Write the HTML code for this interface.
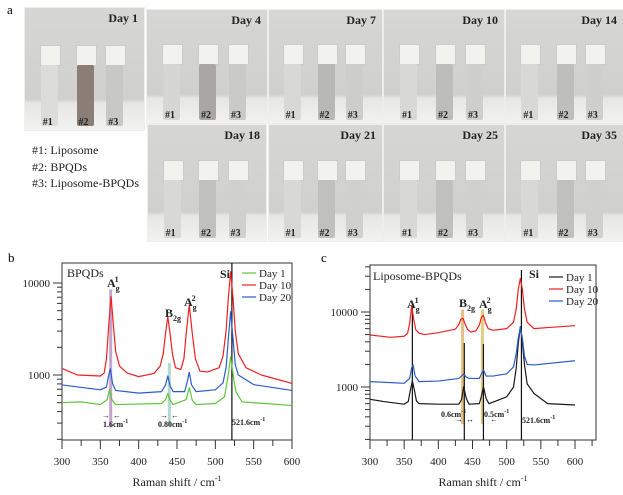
<!DOCTYPE html>
<html><head><meta charset="utf-8"><style>
body{margin:0;background:#fff;width:623px;height:495px;overflow:hidden;font-family:"Liberation Serif",serif;position:relative}
.ph{position:absolute;background:linear-gradient(#d6d6d4,#d0d0ce 75%,#e6e6e4 78%,#f2f2f0);border:1px solid #eee}
.ph .day{position:absolute;right:6px;top:3px;font-weight:bold;font-size:12px;color:#222}
.ph .lbl{position:absolute;bottom:2px;font-size:10px;font-weight:bold;color:#222}
.vial{position:absolute;width:17px;border-radius:2px}
.cap{position:absolute;width:19px;height:19px;background:#f2f2ef;border:1px solid #ccc}
.leg{position:absolute;left:32px;font-size:12px;color:#222}
</style></head><body>
<div style="position:absolute;left:7px;top:2px;font-size:13px">a</div>
<div id="photos"></div>
<div class="leg" style="top:143px">#1: Liposome</div>
<div class="leg" style="top:160px">#2: BPQDs</div>
<div class="leg" style="top:176px">#3: Liposome-BPQDs</div>
<div style="position:absolute;left:8px;top:250px;font-size:13px">b</div>
<div style="position:absolute;left:321px;top:250px;font-size:13px">c</div>
<svg id="chart" width="623" height="495" style="position:absolute;left:0;top:0"></svg>
<script>
const days=["Day 1","Day 4","Day 7","Day 10","Day 14","Day 18","Day 21","Day 25","Day 35"];
const panelBoxes=[[24,7,119,122],[146,9,120,113],[268,9,113,113],[383,9,120,113],[505,9,117,113],[147,124,118,116],[268,124,113,116],[383,124,120,116],[505,124,117,116]];
const vialShade=[["#dcdcda","#8a7e76","#c8c8c6"],["#d6d6d4","#a9a6a3","#cacac8"],["#d8d8d6","#b8b8b6","#cdcdcb"],["#d8d8d6","#bdbdbb","#cfcfcd"],["#d8d8d6","#bebebc","#cfcfcd"],["#d8d8d6","#c0c0be","#d0d0ce"],["#d8d8d6","#c0c0be","#d0d0ce"],["#d8d8d6","#c0c0be","#d0d0ce"],["#d8d8d6","#c0c0be","#d0d0ce"]];
const ph=document.getElementById('photos');
panelBoxes.forEach((b,i)=>{
  const d=document.createElement('div');d.className='ph';
  
  
  d.style.cssText+=`left:${b[0]}px;top:${b[1]}px;width:${b[2]}px;height:${b[3]}px`;
  let h=`<div class="day">${days[i]}</div>`;
  const xs=[0.2,0.5,0.75];
  for(let k=0;k<3;k++){
    const cx=b[2]*xs[k]-8;
    h+=`<div class="cap" style="left:${cx-1}px;top:${b[3]*0.3}px"></div><div class="vial" style="left:${cx}px;top:${b[3]*0.3+20}px;height:${b[3]*0.5}px;background:${vialShade[i][k]}"></div><div class="lbl" style="left:${cx+2}px">#${k+1}</div>`;
  }
  d.innerHTML=h;ph.appendChild(d);
});

const bX_red=[300,320,350,355,358,361,364,367,370,375,385,400,420,428,432,435,438,441,444,448,455,459,462,466,470,474,480,490,505,510,514,517,520,523,526,530,540,560,600];
const bY_red=[1180,1000,975,1050,1500,3500,7100,3500,1800,1250,1050,960,1040,1250,1700,2800,4300,2800,1700,1200,1150,1500,2800,5770,2800,1500,1100,1080,1200,1600,3000,7000,13300,7000,3000,1700,1200,1000,810];
const bX_blue=[300,350,358,361,363,366,370,400,430,435,438,441,445,460,463,466,469,475,500,510,514,517,520,523,526,530,550,600];
const bY_blue=[780,690,740,1000,1170,800,680,635,660,780,975,760,660,660,820,1070,780,660,690,820,1200,2500,4880,2500,1300,1000,786,680];
const bX_green=[300,325,350,359,362,365,370,430,435,438,441,445,462,466,470,475,500,512,516,520,524,527,535,600];
const bY_green=[500,510,477,540,700,540,477,490,540,630,530,477,540,730,530,477,490,580,900,1580,900,650,510,467];
const cX_red=[300,330,350,355,358,361,364,367,372,380,400,425,430,433,436,439,443,448,455,460,463,466,469,473,480,500,510,514,517,520,523,526,530,540,560,600];
const cY_red=[4940,4600,4750,5200,7000,12000,8000,5800,5200,5000,5300,5900,6800,8000,8230,7000,5800,5400,5600,6700,8500,9040,7200,6000,5700,6000,7300,11000,20000,28000,20000,11000,7300,6000,6200,6570];
const cX_blue=[300,350,358,361,363,366,372,400,430,434,437,441,445,460,463,466,470,480,500,510,514,517,520,523,526,530,540,600];
const cY_blue=[1180,1120,1300,1800,1970,1400,1180,1200,1300,1400,1490,1350,1300,1300,1500,1690,1400,1400,1500,1850,2800,4500,6250,4500,2600,2000,1970,2240];
const cX_black=[300,320,350,356,359,362,365,368,372,400,430,434,437,441,445,460,463,466,470,474,500,510,514,517,520,523,526,530,540,560,600];
const cY_black=[685,640,590,640,900,1210,900,650,600,590,590,680,1010,700,590,600,750,1010,700,600,740,1000,1800,3800,6370,4000,2000,1100,820,600,575];
const xTicks=[300,350,400,450,500,550,600];
const yTickLabels=["1000","10000"];

const svg=document.getElementById('chart');const NS="http://www.w3.org/2000/svg";
function el(t,a,txt){const e=document.createElementNS(NS,t);for(const k in a)e.setAttribute(k,a[k]);if(txt!==undefined)e.textContent=txt;svg.appendChild(e);return e;}
function chart(cfg){
  const X=v=>cfg.x0+(v-300)*(cfg.x600-cfg.x0)/300;
  const Y=v=>cfg.y1000-cfg.dec*Math.log10(v/1000);
  const f=el('rect',{x:cfg.L,y:cfg.T,width:cfg.R-cfg.L,height:cfg.B-cfg.T,fill:'none',stroke:'#333','stroke-width':1});
  
  
  for(let v=300;v<=cfg.xmax;v+=25){const big=v%50===0;
    el('line',{x1:X(v),x2:X(v),y1:cfg.B,y2:cfg.B+(big?9:6),stroke:'#333'});
    if(big&&xTicks.includes(v)){const t=el('text',{x:X(v),y:cfg.B+25,'font-size':11,'text-anchor':'middle',fill:'#222'},v);
      
      }}
  for(let d=100;d<=10000;d*=10)for(let m=1;m<10;m++){const v=d*m;const y=Y(v);if(y<cfg.T||y>cfg.B)continue;
    el('line',{x1:cfg.L-(m===1?9:5),x2:cfg.L,y1:y,y2:y,stroke:'#333'});}
  yTickLabels.forEach(s=>{const t=el('text',{x:cfg.L-12,y:Y(+s)+4,'font-size':11,'text-anchor':'end',fill:'#222'},s);
    
    });
  const tt=el('text',{x:(cfg.L+cfg.R)/2,y:486,'font-size':12,'text-anchor':'middle',fill:'#222'},'Raman shift / cm');
  const sup=document.createElementNS(NS,'tspan');sup.setAttribute('dy','-5');sup.setAttribute('font-size','8');sup.textContent='-1';tt.appendChild(sup);
  
  
  cfg.bands.forEach(b=>{el('rect',{x:X(b[0])-1.5,y:Y(b[1]),width:3,height:Y(b[2])-Y(b[1]),fill:b[3],opacity:0.8});});
  cfg.vlines.forEach(b=>{el('line',{x1:X(b[0]),x2:X(b[0]),y1:b[1],y2:cfg.B,stroke:'#111','stroke-width':1.2});});
  cfg.series.forEach(s=>{
    const p=el('polyline',{points:s.x.map((v,i)=>X(v)+','+Y(s.y[i])).join(' '),fill:'none',stroke:s.c,'stroke-width':1.2,'stroke-linejoin':'round'});
    
    
  });
  cfg.series.forEach((s,i)=>{const y=cfg.legY+i*12;
    el('line',{x1:cfg.legX,x2:cfg.legX+14,y1:y,y2:y,stroke:s.c,'stroke-width':1.2});
    const t=el('text',{x:cfg.legX+17,y:y+4,'font-size':11,fill:'#222'},s.n);
    
    });
  cfg.texts.forEach(t=>{const e=el('text',{x:t[0],y:t[1],'font-size':t[3],'font-weight':t[4]||'normal',fill:'#222'});e.innerHTML=t[2];
    
    });
};
chart({id:'b',L:62,R:292,T:263,B:440,x0:62,x600:292,xmax:600,y1000:375,dec:92,legX:242,legY:273,
  series:[{n:'Day 1',c:'#5ec43c',x:bX_green,y:bY_green},{n:'Day 10',c:'#ee2020',x:bX_red,y:bY_red},{n:'Day 20',c:'#2a5cc8',x:bX_blue,y:bY_blue}],
  bands:[[363.5,8500,270,'#b58fc0'],[440,1350,280,'#9fd0c8']],vlines:[[521.6,263]],
  texts:[[67,277,'BPQDs',12],[107,287,'A<tspan font-size="8" dy="4">g</tspan><tspan font-size="8" dx="-5" dy="-9">1</tspan>',12,'bold'],[165,317,'B<tspan font-size="8" dy="4">2g</tspan>',12,'bold'],[184,306,'A<tspan font-size="8" dy="4">g</tspan><tspan font-size="8" dx="-5" dy="-9">2</tspan>',12,'bold'],[220,278,'Si',12,'bold'],
   [103,427,'1.6cm<tspan font-size="6" dy="-4">-1</tspan>',8,'bold'],[158,427,'0.80cm<tspan font-size="6" dy="-4">-1</tspan>',8,'bold'],[232,425,'521.6cm<tspan font-size="6" dy="-4">-1</tspan>',8,'bold'],
   [102,418,'→',8],[113,418,'←',8],[160,418,'→',8],[171,418,'←',8]]});
chart({id:'c',L:370,R:596,T:265,B:440,x0:370,x600:575,xmax:625,y1000:387,dec:75,legX:549,legY:277,
  series:[{n:'Day 1',c:'#1a1a1a',x:cX_black,y:cY_black},{n:'Day 10',c:'#ee2020',x:cX_red,y:cY_red},{n:'Day 20',c:'#2a5cc8',x:cX_blue,y:cY_blue}],
  bands:[[435.5,10800,320,'#e0b060'],[464.5,10800,320,'#d8c060']],vlines:[[362,306],[438,343],[466,344],[521.6,270]],
  texts:[[373,280,'Liposome-BPQDs',12],[407,308,'A<tspan font-size="8" dy="4">g</tspan><tspan font-size="8" dx="-5" dy="-9">1</tspan>',12,'bold'],[459,307,'B<tspan font-size="8" dy="4">2g</tspan>',12,'bold'],[479,308,'A<tspan font-size="8" dy="4">g</tspan><tspan font-size="8" dx="-5" dy="-9">2</tspan>',12,'bold'],[529,278,'Si',12,'bold'],
   [441,417,'0.6cm<tspan font-size="6" dy="-4">-1</tspan>',8,'bold'],[484,417,'0.5cm<tspan font-size="6" dy="-4">-1</tspan>',8,'bold'],[522,423,'521.6cm<tspan font-size="6" dy="-4">-1</tspan>',8,'bold'],
   [455,422,'→',8],[466,422,'↔',8],[490,422,'←',8]]});
</script>
</body></html>
